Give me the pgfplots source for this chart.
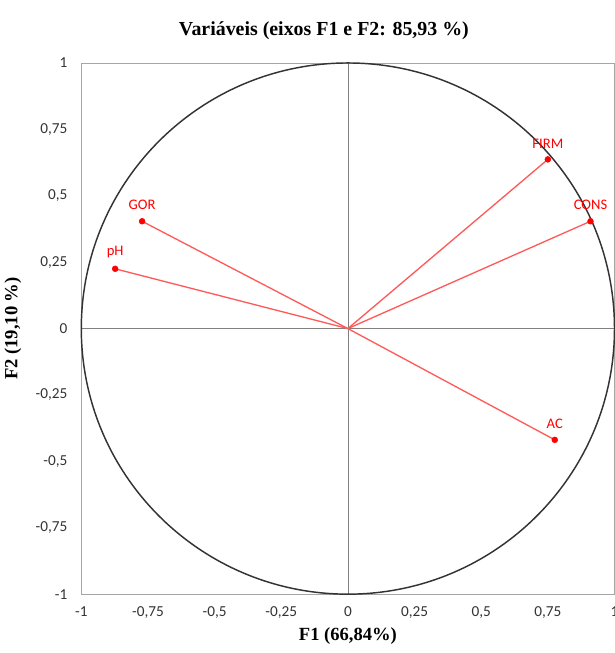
\documentclass[border=0pt]{standalone}
\usepackage{pgfplots}
\pgfplotsset{compat=1.18}
\usepackage{pgfplotstable}
\usepackage{fontspec}
\setmainfont{Liberation Serif}
\newfontfamily\calibri{Carlito}

\definecolor{vecline}{HTML}{FF5A5A}
\definecolor{vecdot}{HTML}{FF0000}

% loadings on F1/F2
\pgfplotstableread{
x y label
0.750 0.637 FIRM
0.910 0.404 CONS
-0.772 0.404 GOR
-0.873 0.225 pH
0.776 -0.419 AC
}\vars

\begin{document}
\begin{tikzpicture}[trim axis right]
\begin{axis}[
  scale only axis,
  width=402pt, height=400.5pt,
  xmin=-1, xmax=1, ymin=-1, ymax=1,
  xtick={-1,-0.75,-0.5,-0.25,0,0.25,0.5,0.75,1},
  ytick={-1,-0.75,-0.5,-0.25,0,0.25,0.5,0.75,1},
  xticklabels={-1,{-0,75},{-0,5},{-0,25},0,{0,25},{0,5},{0,75},1},
  yticklabels={-1,{-0,75},{-0,5},{-0,25},0,{0,25},{0,5},{0,75},1},
  major tick length=0pt,
  axis line style={draw=black!35},
  ticklabel style={font=\calibri\fontsize{11.5}{13}\selectfont, text=black!80},
  xticklabel style={yshift=-6pt},
  yticklabel style={xshift=-7pt},
  title={Variáveis (eixos F1 e F2: 85,93 \%)},
  title style={font=\bfseries\fontsize{15}{17}\selectfont, at={(0.455,1)}, anchor=south, yshift=8pt},
  xlabel={F1 (66,84\%)},
  ylabel={F2 (19,10 \%)},
  label style={font=\bfseries\fontsize{14}{16}\selectfont},
  xlabel style={yshift=0pt},
  ylabel style={yshift=4pt},
  clip=false,
]
\draw[black!50] (axis cs:-1,0) -- (axis cs:1,0);
\draw[black!50] (axis cs:0,-1) -- (axis cs:0,1);
\draw[black!80, line width=1.1pt] (axis cs:0,0) circle[radius=1];

\addplot[vecline, line width=1pt] coordinates {(0,0) (0.750,0.637)};
\addplot[vecline, line width=1pt] coordinates {(0,0) (0.910,0.404)};
\addplot[vecline, line width=1pt] coordinates {(0,0) (-0.772,0.404)};
\addplot[vecline, line width=1pt] coordinates {(0,0) (-0.873,0.225)};
\addplot[vecline, line width=1pt] coordinates {(0,0) (0.776,-0.419)};

\addplot[only marks, mark=*, mark size=2.2pt, vecdot,
  nodes near coords, point meta=explicit symbolic,
  nodes near coords style={font=\calibri\fontsize{11}{12}\selectfont, text=vecdot, anchor=south, yshift=5pt}]
  table[meta=label] {\vars};
\end{axis}
\path (current axis.outer north) ++(0,13pt);
\path (current axis.outer south) ++(0,-3pt);
\end{tikzpicture}
\end{document}
